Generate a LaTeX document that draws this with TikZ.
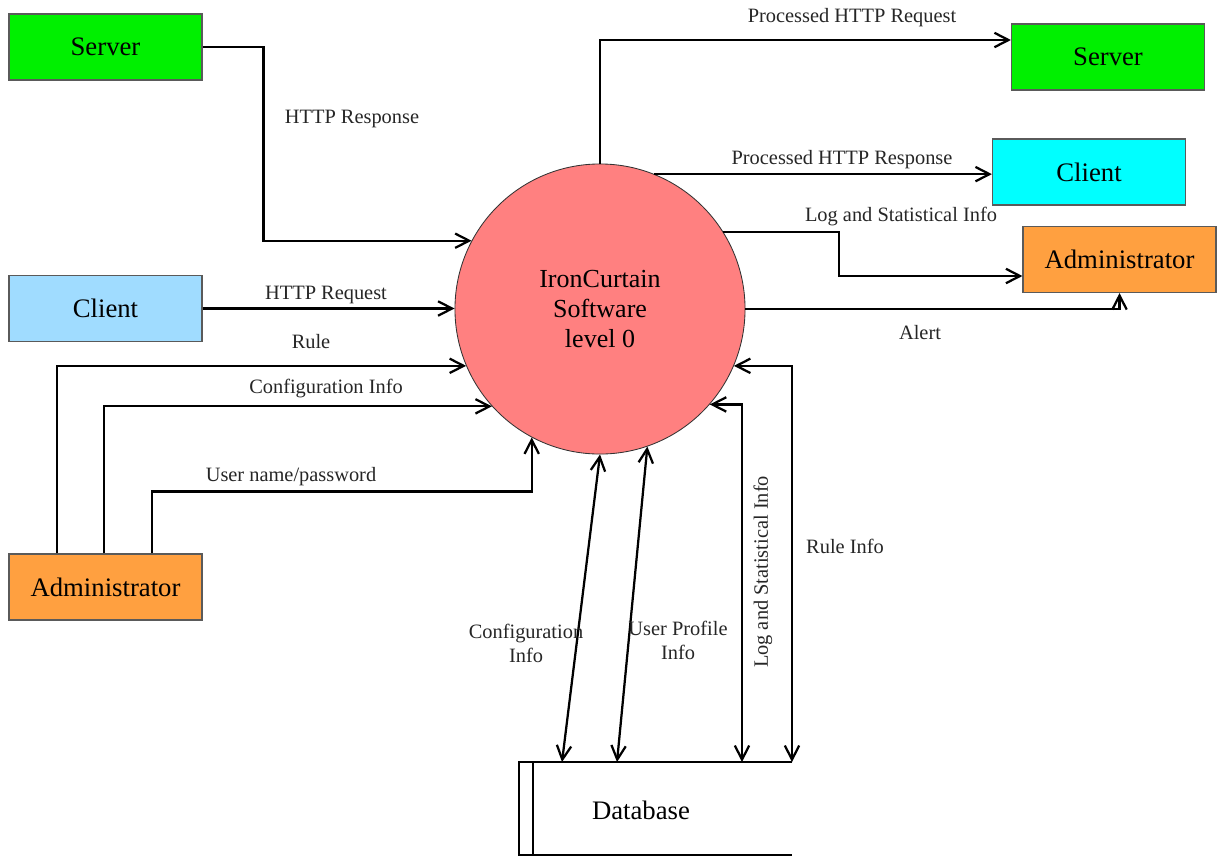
\documentclass[tikz,border=0pt]{standalone}
\usepackage{fontspec}
\setmainfont{Liberation Serif}
\usetikzlibrary{arrows.meta,calc}
\definecolor{srvgreen}{RGB}{0,240,0}
\definecolor{clilight}{RGB}{160,220,255}
\definecolor{clicyan}{RGB}{0,255,255}
\definecolor{admorange}{RGB}{255,160,64}
\definecolor{procred}{RGB}{255,128,128}
\definecolor{boxedge}{RGB}{90,90,90}
\tikzset{
  entity/.style={draw=boxedge,line width=0.8pt,minimum width=4.825cm,minimum height=1.65cm,inner sep=0pt,font=\fontsize{19}{22}\selectfont},
  process/.style={circle,draw=black!80,line width=0.6pt,fill=procred,minimum size=7.25cm,inner sep=0pt,align=center,font=\fontsize{18.5}{21.3}\selectfont},
  tip/.style={Straight Barb[length=3.5mm,width=3.6mm,line width=1.6pt]},
  flow/.style={line width=1.6pt,-{Straight Barb[length=3.5mm,width=3.6mm,line width=1.6pt]}},
  dflow/.style={line width=1.6pt,{Straight Barb[length=3.5mm,width=3.6mm,line width=1.6pt]}-{Straight Barb[length=3.5mm,width=3.6mm,line width=1.6pt]}},
  lbl/.style={font=\fontsize{14.5}{17}\selectfont,text=black!85,inner sep=0pt,align=center},
  store/.style={line width=1.6pt}
}
\begin{document}
\begin{tikzpicture}[x=0.025cm,y=-0.025cm]
\useasboundingbox (0,0) rectangle (1220,856);

% external entities
\node[entity,fill=srvgreen] (srvL) at (105.5,47) {Server};
\node[entity,fill=clilight] (cliL) at (105.5,308.5) {Client};
\node[entity,fill=admorange] (admL) at (105.5,587) {Administrator};
\node[entity,fill=srvgreen] (srvR) at (1108,57) {Server};
\node[entity,fill=clicyan] (cliR) at (1089,172) {Client};
\node[entity,fill=admorange] (admR) at (1119.5,259.5) {Administrator};

% central process
\node[process] (sw) at (600,309) {IronCurtain\\Software\\level 0};

% data store
\coordinate (dbTL) at (519,762);
\coordinate (dbTR) at (792,762);
\coordinate (dbBL) at (519,855);
\coordinate (dbBR) at (792,855);
\coordinate (dbA) at (562,762);
\coordinate (dbB) at (617,762);
\coordinate (dbC) at (742,762);
\coordinate (dbD) at (792,762);
\draw[store] (dbTR) -- (dbTL) -- (dbBL) -- (dbBR);
\draw[store] (533,762) -- (533,855);
\node[font=\fontsize{19}{22}\selectfont] (db) at (641,810) {Database};

% incoming flows on the left
\draw[flow] (srvL.east) -- ++(61,0) |- (sw.152);
\draw[flow] (cliL.east) -- (cliL.east -| sw.west);
\draw[flow] ($(admL.north)+(-48.5,0)$) |- (sw.203.6);
\draw[flow] ($(admL.north)+(-1.5,0)$) |- (sw.222);
\draw[flow] ($(admL.north)+(46.5,0)$) -- ++(0,-62) -| (sw.242);

% outgoing flows on the right
\draw[flow] (sw.north) |- ($(srvR.west)+(0,-17)$);
\draw[flow] (sw.68) -- (sw.68 -| cliR.west);
\draw[flow] (sw.32.6) -- ++(116,0) |- ($(admR.west)+(0,16.5)$);
\draw[flow] (sw.east) -| (admR.south);

% flows to and from the data store
\draw[dflow] (sw.270.8) -- (dbA);
\draw[dflow] (sw.289.2) -- (dbB);
\draw[dflow] (dbC) |- (sw.319.6);
\draw[dflow] (dbD) |- (sw.337.3);

% flow labels
\node[lbl] (lHResp) at (352,119) {HTTP Response};
\node[lbl] (lHReq) at (326,295) {HTTP Request};
\node[lbl] (lRule) at (311,342) {Rule};
\node[lbl] (lConf) at (326,389) {Configuration Info};
\node[lbl] (lUser) at (291,477) {User name/password};
\node[lbl] (lPReq) at (852,18) {Processed HTTP Request};
\node[lbl] (lPResp) at (842,160) {Processed HTTP Response};
\node[lbl] (lLog) at (901,217) {Log and Statistical Info};
\node[lbl] (lAlert) at (920,333) {Alert};
\node[lbl] (lDbConf) at (526,643) {Configuration\\Info};
\node[lbl] (lDbUser) at (678,640) {User Profile\\Info};
\node[lbl,rotate=90] (lDbLog) at (763,572) {Log and Statistical Info};
\node[lbl] (lDbRule) at (845,546) {Rule Info};
\end{tikzpicture}
\end{document}
